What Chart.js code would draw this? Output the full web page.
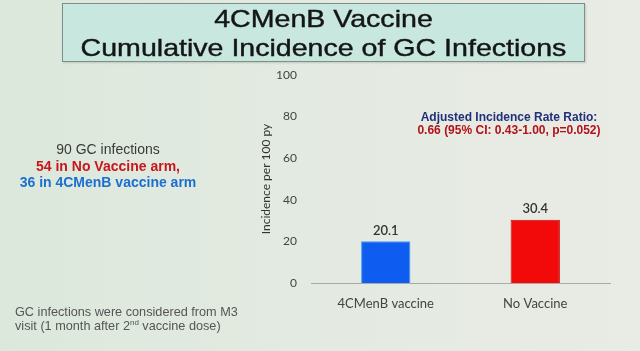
<!DOCTYPE html>
<html>
<head>
<meta charset="utf-8">
<script src="https://cdn.jsdelivr.net/npm/chart.js@4/dist/chart.umd.min.js"></script>
<style>
  html, body { margin:0; padding:0; }
  body { width:640px; height:351px; overflow:hidden; position:relative;
    background: linear-gradient(90deg, #dce8dc 0%, #e3eae1 45%, #e9ebe5 100%);
    font-family: "Liberation Sans", Arial, sans-serif; }
  #wrap { position:absolute; left:0; top:0; width:640px; height:351px; }
  .title { position:absolute; left:62px; top:3px; width:523px; height:59px;
    background:#c7e7df; border:1px solid #7f8d89; box-shadow: 1px 1px 2px rgba(0,0,0,0.15);
    box-sizing:border-box; }
  .title div { text-align:center; font-size:24px; line-height:29px; color:#151515;
    transform: scaleX(1.19); transform-origin: 50% 50%; -webkit-text-stroke: 0.4px #151515; }
  .left { position:absolute; left:8px; top:141px; width:200px; text-align:center; font-size:14px; line-height:16.5px; }
  .note { position:absolute; left:15px; top:306px; font-size:12.7px; line-height:13.5px; color:#555; }
  .ratio { position:absolute; left:400px; top:111px; width:218px; text-align:center; font-size:12px; line-height:13px; font-weight:bold; }
</style>
</head>
<body>
<div id="wrap"><canvas id="c" width="640" height="351"></canvas></div>
<div class="title"><div>4CMenB Vaccine</div><div>Cumulative Incidence of GC Infections</div></div>
<div class="left">
  <div style="color:#3a3a3a">90 GC infections</div>
  <div style="color:#c8161d;font-weight:bold">54 in No Vaccine arm,</div>
  <div style="color:#1a6fcf;font-weight:bold">36 in 4CMenB vaccine arm</div>
</div>
<div class="ratio">
  <div style="color:#22307a">Adjusted Incidence Rate Ratio:</div>
  <div style="color:#b3121a">0.66 (95% CI: 0.43-1.00, p=0.052)</div>
</div>
<div class="note">GC infections were considered from M3<br>visit (1 month after 2<sup style="font-size:8px;line-height:0">nd</sup> vaccine dose)</div>
<script>
const categories = ["4CMenB vaccine", "No Vaccine"];
const incidence = [20.1, 30.4];
const barColors = ["#0f5cf0", "#f20a0a"];
const yTicks = [0, 20, 40, 60, 80, 100];

const valueLabels = {
  id: 'valueLabels',
  afterDatasetsDraw(chart) {
    const ctx = chart.ctx;
    const meta = chart.getDatasetMeta(0);
    ctx.save();
    ctx.font = '600 13px Lato';
    ctx.fillStyle = '#333';
    ctx.textAlign = 'center';
    ctx.textBaseline = 'bottom';
    meta.data.forEach((el, i) => {
      ctx.fillText(incidence[i].toFixed(1), el.x, el.y - 4);
    });
    ctx.restore();
  }
};

new Chart(document.getElementById('c'), {
  type: 'bar',
  data: {
    labels: categories,
    datasets: [{
      data: incidence,
      backgroundColor: barColors,
      borderColor: ["#3aa0f0", "#c01010"],
      borderWidth: 1,
      barPercentage: 0.33,
      categoryPercentage: 1
    }]
  },
  options: {
    responsive: false,
    animation: false,
    events: [],
    layout: { padding: { left: 255, right: 30, top: 75, bottom: 0 } },
    plugins: { legend: { display: false }, tooltip: { enabled: false } },
    scales: {
      x: {
        grid: { display: false, drawTicks: false },
        border: { display: true, color: '#a9aaa6', width: 1 },
        ticks: { color: '#444', font: { family: 'Lato', size: 13 }, padding: 13 },
        afterFit(s) { s.height = 68; }
      },
      y: {
        min: 0, max: 100,
        afterBuildTicks(s) { s.ticks = yTicks.map(v => ({ value: v })); },
        grid: { display: false, drawTicks: false },
        border: { display: false },
        ticks: { color: '#444', font: { family: 'Lato', size: 12 }, padding: 14 },
        title: { display: true, text: 'Incidence per 100 py', color: '#333', font: { family: 'Lato', size: 12 } },
        afterFit(s) { s.width = 56; }
      }
    }
  },
  plugins: [valueLabels]
});
</script>
</body>
</html>
